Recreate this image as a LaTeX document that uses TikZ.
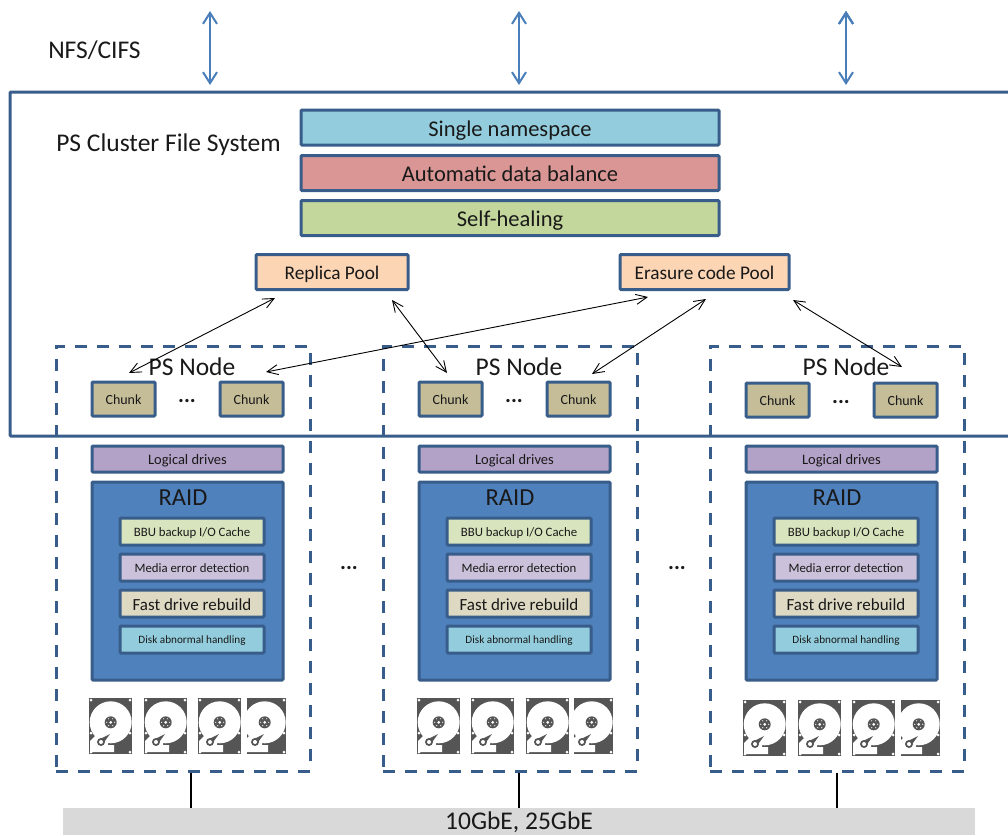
\documentclass[tikz,border=0pt]{standalone}
\usepackage{fontspec}
\setmainfont{Carlito}
\usetikzlibrary{arrows.meta}
\definecolor{boxblue}{HTML}{385D8A}
\definecolor{arrowblue}{HTML}{4A7EBB}
\definecolor{raidblue}{HTML}{4F81BD}
\definecolor{nsfill}{HTML}{93CDDD}
\definecolor{balfill}{HTML}{D99694}
\definecolor{healfill}{HTML}{C3D69B}
\definecolor{poolfill}{HTML}{FCD5B5}
\definecolor{chunkfill}{HTML}{C4BD97}
\definecolor{drivefill}{HTML}{B3A2C7}
\definecolor{bbufill}{HTML}{D7E4BD}
\definecolor{mediafill}{HTML}{CCC1DA}
\definecolor{rebuildfill}{HTML}{DDD9C3}
\definecolor{diskgray}{HTML}{555555}
\definecolor{netgray}{HTML}{D9D9D9}
\newcommand{\fs}[1]{\fontsize{#1}{#1}\selectfont}
\tikzset{
  sized/.style={font=\fs{#1},text height={.78*#1 pt},text depth=0pt},
  pics/hdd/.style={code={
    \begin{scope}
      \clip (#1,0) rectangle (43,56);
      \fill[diskgray] (0,0) rectangle (43,56);
      \fill[white] (21.7,24.3) circle (21);
      \fill[white] (1,43) -- (8,36) -- (19,43) -- (19,47) -- (25,47) -- (25,54) -- (1,54) -- cycle;
      \fill[diskgray] (21.7,24.3) circle (6);
      \fill[white] (21.7,24.3) circle (1.5);
      \foreach \a in {0,60,...,300}
        \fill[white] (21.7,24.3) ++(\a:4) circle (.6);
      \fill[diskgray] (21,36) -- (13,47) -- (9,42) -- cycle;
      \fill[diskgray] (12,44) circle (4);
      \fill[white] (12,44) circle (2);
      \foreach \cx/\cy in {2/2,41/2,2/54,41/54,2/35,41/35}
        \fill[white] (\cx,\cy) circle (1.5);
    \end{scope}
  }}
}
\begin{document}
\begin{tikzpicture}[x=1pt,y=-1pt
  ,semithick]
  \tikzstyle{box}=[draw=boxblue,line width=3pt,rounded corners=1pt,inner sep=0pt,text=black!90]
  \tikzstyle{banner}=[box,minimum width=418pt,minimum height=35pt,sized=22.5]
  \tikzstyle{pool}=[box,fill=poolfill,minimum height=35pt,sized=19.3]
  \tikzstyle{chunk}=[box,fill=chunkfill,minimum width=63pt,minimum height=34pt,sized=14]
  \tikzstyle{drives}=[box,fill=drivefill,minimum width=191pt,minimum height=26pt,sized=14.5]
  \tikzstyle{raid}=[box,fill=raidblue,minimum width=191pt,minimum height=198pt]
  \tikzstyle{feature}=[box,minimum width=144pt,minimum height=27pt]
  \tikzstyle{psnode}=[draw=boxblue,line width=3pt,dash pattern=on 12pt off 10pt,minimum width=254pt,minimum height=425pt,inner sep=0pt]
  \tikzstyle{label}=[inner sep=0pt,text=black!90]
  \tikzstyle{dots}=[label,font=\bfseries\fs{22}]
  \tikzstyle{access}=[{Straight Barb[length=11pt,width=14pt]}-{Straight Barb[length=11pt,width=14pt]},draw=arrowblue,line width=2pt]
  \tikzstyle{link}=[{Straight Barb[length=11pt,width=10pt]}-{Straight Barb[length=11pt,width=10pt]},black,line width=0.9pt]

  \useasboundingbox (0,0) rectangle (1008,835);

  % cluster frame, runs off the right side
  \draw[boxblue,line width=3pt,rounded corners=1pt] (1008,92) -- (10,92) -- (10,436) -- (1008,436);

  \node[label,font=\fs{25.5}] (nfs) at (94.5,50) {NFS/CIFS};
  \node[label,font=\fs{25.5}] (title) at (168.5,145) {PS Cluster File System};

  \node[banner,fill=nsfill] (ns) at (510,127.5) {Single namespace};
  \node[banner,fill=balfill] (balance) at (510,173) {Automatic data balance};
  \node[banner,fill=healfill] (heal) at (510,218) {Self-healing};

  \node[pool,minimum width=152pt] (replica) at (332,272) {Replica Pool};
  \node[pool,minimum width=169pt] (erasure) at (704.5,272) {Erasure code Pool};

  % 3 columns
  \foreach \n/\dx/\dy in {a/0/0,b/327/0,c/654/1}
  {
    \begin{scope}[xshift=\dx pt]
      \node[psnode] (node\n) at (183,558.5) {};
      \node[label,font=\fs{25.5}] (title\n) at (192,367) {PS Node};
      \node[chunk] (chunkl\n) at (123.5,399+\dy) {Chunk};
      \node[chunk] (chunkr\n) at (251.5,399+\dy) {Chunk};
      \node[dots] (dots\n) at (187,401+\dy) {...};
      \node[drives] (drives\n) at (187.5,459) {Logical drives};
      \node[raid] (raid\n) at (187.5,581) {};
      \node[label,font=\fs{24.5}] (raidname\n) at (183,498) {RAID};
      \node[feature,fill=bbufill,sized=12.8] (bbu\n) at (192,531.5) {BBU backup I/O Cache};
      \node[feature,fill=mediafill,sized=12.8] (media\n) at (192,567.5) {Media error detection};
      \node[feature,fill=rebuildfill,sized=17] (rebuild\n) at (192,603.5) {Fast drive rebuild};
      \node[feature,fill=nsfill,sized=11.2] (abnormal\n) at (192,639.5) {Disk abnormal handling};
    \end{scope}
  }

  % disks
  \foreach \x/\y in {89/698,144/698,198/698,243/698,
    417/698,471/698,526/698,570/698,
    743/700,798/700,852/700,897/700}
  {
    \ifnum\x=243 \pic at (\x,\y) {hdd=4};
    \else\ifnum\x=570 \pic at (\x,\y) {hdd=4};
    \else\ifnum\x=897 \pic at (\x,\y) {hdd=4};
    \else \pic at (\x,\y) {hdd=0};
    \fi\fi\fi
  }

  \node[dots] (gapab) at (349,568) {...};
  \node[dots] (gapbc) at (677,568) {...};

  \node[fill=netgray,minimum width=912pt,minimum height=27pt,inner sep=0pt,text=black!90,sized=25.5,text height=16pt] (net) at (519,821.5) {10GbE, 25GbE};

  % to the network
  \draw[line width=2pt] ([xshift=8pt]nodea.south) -- ([xshift=8pt]nodea.south |- net.north);
  \draw[line width=2pt] ([xshift=8.5pt]nodeb.south) -- ([xshift=8.5pt]nodeb.south |- net.north);
  \draw[line width=2pt] ([xshift=-0.5pt]nodec.south) -- ([xshift=-0.5pt]nodec.south |- net.north);

  % client access
  \coordinate (topa) at (210,11);
  \coordinate (topb) at (519,11);
  \coordinate (topc) at (846,11);
  \coordinate (bota) at (210,85);
  \coordinate (botb) at (519,85);
  \coordinate (botc) at (846,85);
  \path[access]
  (topa) edge (bota)
  (topb) edge (botb)
  (topc) edge (botc);

  % pools to chunks
  \coordinate (rl) at (275,298);
  \coordinate (rr) at (392,300);
  \coordinate (el) at (648,297);
  \coordinate (em) at (706,299);
  \coordinate (er) at (793,300);
  \coordinate (ca) at (129,373);
  \coordinate (cb) at (266,372);
  \coordinate (cc) at (447,373);
  \coordinate (cd) at (592,374);
  \coordinate (ce) at (902,367);
  \path[link]
  (rl) edge (ca)
  (el) edge (cb)
  (rr) edge (cc)
  (em) edge (cd)
  (er) edge (ce);
\end{tikzpicture}
\end{document}
